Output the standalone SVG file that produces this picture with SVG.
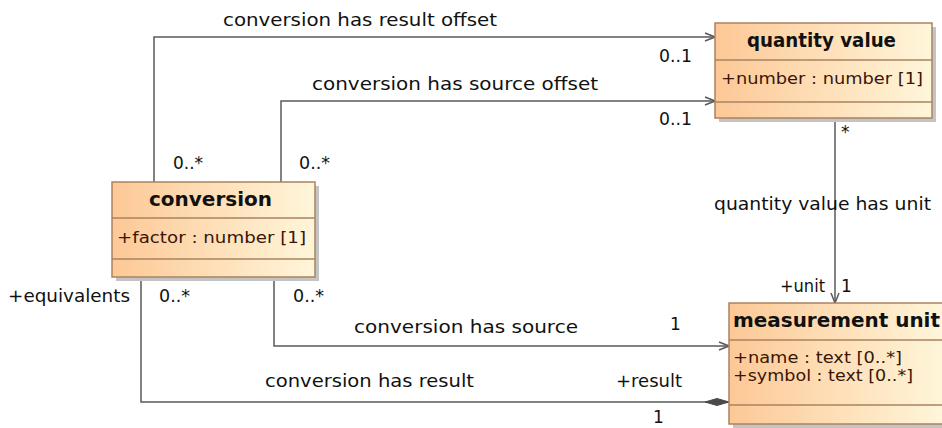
<svg xmlns="http://www.w3.org/2000/svg" width="942" height="428" viewBox="0 0 942 428">
  <defs>
    <linearGradient id="classFill" x1="0" y1="0" x2="1" y2="0">
      <stop offset="0" stop-color="#fdc896"/>
      <stop offset="1" stop-color="#fff6da"/>
    </linearGradient>
    <marker id="openArrow" viewBox="0 0 12 10" refX="11" refY="5" markerWidth="12" markerHeight="10" markerUnits="userSpaceOnUse" orient="auto">
      <path d="M1,1 L11,5 L1,9" fill="none" stroke="#5a5a5a" stroke-width="1.5"/>
    </marker>
    <marker id="composite" viewBox="0 0 26 10" refX="25" refY="5" markerWidth="26" markerHeight="10" markerUnits="userSpaceOnUse" orient="auto">
      <path d="M1,5 L13,1.5 L25,5 L13,8.5 Z" fill="#4a4a4a" stroke="#4a4a4a" stroke-width="1"/>
    </marker>
  </defs>
  <style>
    .shadow { fill: #c4c4c4; }
    .box { fill: url(#classFill); stroke: #a9835f; stroke-width: 1.5; }
    .sep { stroke: #a9835f; stroke-width: 1.5; }
    .name { font-family: "DejaVu Sans", "Liberation Sans", sans-serif; font-weight: bold; font-size: 19px; fill: #111; }
    .attr { font-family: "DejaVu Sans", "Liberation Sans", sans-serif; font-size: 15px; fill: #3a1608; }
    .lbl { font-family: "DejaVu Sans", "Liberation Sans", sans-serif; font-size: 17px; fill: #111; }
    .edge { fill: none; stroke: #5a5a5a; stroke-width: 1.5; }
  </style>

  <rect width="942" height="428" fill="#ffffff"/>

  <!-- associations -->
  <g id="connectors">
    <path class="edge" d="M154,182 V37 H715" marker-end="url(#openArrow)"/>
    <path class="edge" d="M281,182 V101 H715" marker-end="url(#openArrow)"/>
    <path class="edge" d="M835,118 V303" marker-end="url(#openArrow)"/>
    <path class="edge" d="M274,277 V346 H729" marker-end="url(#openArrow)"/>
    <path class="edge" d="M141,277 V402 H729" marker-end="url(#composite)"/>

    <text class="lbl" x="223" y="26" textLength="274" lengthAdjust="spacingAndGlyphs">conversion has result offset</text>
    <text class="lbl" x="659" y="62" textLength="33" lengthAdjust="spacingAndGlyphs">0..1</text>
    <text class="lbl" x="312" y="90" textLength="286" lengthAdjust="spacingAndGlyphs">conversion has source offset</text>
    <text class="lbl" x="659" y="125" textLength="33" lengthAdjust="spacingAndGlyphs">0..1</text>
    <text class="lbl" x="173" y="169" textLength="30" lengthAdjust="spacingAndGlyphs">0..*</text>
    <text class="lbl" x="299" y="169" textLength="31" lengthAdjust="spacingAndGlyphs">0..*</text>

    <text class="lbl" x="841" y="138">*</text>
    <text class="lbl" x="714" y="210" textLength="217" lengthAdjust="spacingAndGlyphs">quantity value has unit</text>
    <text class="lbl" x="780" y="292" textLength="45" lengthAdjust="spacingAndGlyphs">+unit</text>
    <text class="lbl" x="841" y="292">1</text>

    <text class="lbl" x="8" y="302" textLength="122" lengthAdjust="spacingAndGlyphs">+equivalents</text>
    <text class="lbl" x="159" y="302" textLength="31" lengthAdjust="spacingAndGlyphs">0..*</text>
    <text class="lbl" x="293" y="302" textLength="31" lengthAdjust="spacingAndGlyphs">0..*</text>
    <text class="lbl" x="354" y="333" textLength="224" lengthAdjust="spacingAndGlyphs">conversion has source</text>
    <text class="lbl" x="670" y="330">1</text>
    <text class="lbl" x="265" y="387" textLength="209" lengthAdjust="spacingAndGlyphs">conversion has result</text>
    <text class="lbl" x="616" y="387" textLength="66" lengthAdjust="spacingAndGlyphs">+result</text>
    <text class="lbl" x="653" y="423">1</text>
  </g>

  <!-- classes -->
  <g id="quantity-value">
    <rect class="shadow" x="719" y="27" width="217" height="95"/>
    <rect class="box" x="715" y="23" width="217" height="95"/>
    <line class="sep" x1="715" y1="60" x2="932" y2="60"/>
    <line class="sep" x1="715" y1="102" x2="932" y2="102"/>
    <text class="name" x="747" y="47" textLength="149" lengthAdjust="spacingAndGlyphs">quantity value</text>
    <text class="attr" x="721" y="84" textLength="202" lengthAdjust="spacingAndGlyphs">+number : number [1]</text>
  </g>

  <g id="conversion">
    <rect class="shadow" x="116" y="186" width="203" height="95"/>
    <rect class="box" x="112" y="182" width="203" height="95"/>
    <line class="sep" x1="112" y1="218" x2="315" y2="218"/>
    <line class="sep" x1="112" y1="259" x2="315" y2="259"/>
    <text class="name" x="149" y="206" textLength="123" lengthAdjust="spacingAndGlyphs">conversion</text>
    <text class="attr" x="117" y="243" textLength="189" lengthAdjust="spacingAndGlyphs">+factor : number [1]</text>
  </g>

  <g id="measurement-unit">
    <rect class="shadow" x="733" y="307" width="216" height="121"/>
    <rect class="box" x="729" y="303" width="216" height="121"/>
    <line class="sep" x1="729" y1="340" x2="945" y2="340"/>
    <line class="sep" x1="729" y1="405" x2="945" y2="405"/>
    <text class="name" x="733" y="327" textLength="207" lengthAdjust="spacingAndGlyphs">measurement unit</text>
    <text class="attr" x="733" y="363" textLength="169" lengthAdjust="spacingAndGlyphs">+name : text [0..*]</text>
    <text class="attr" x="733" y="381" textLength="180" lengthAdjust="spacingAndGlyphs">+symbol : text [0..*]</text>
  </g>
</svg>
